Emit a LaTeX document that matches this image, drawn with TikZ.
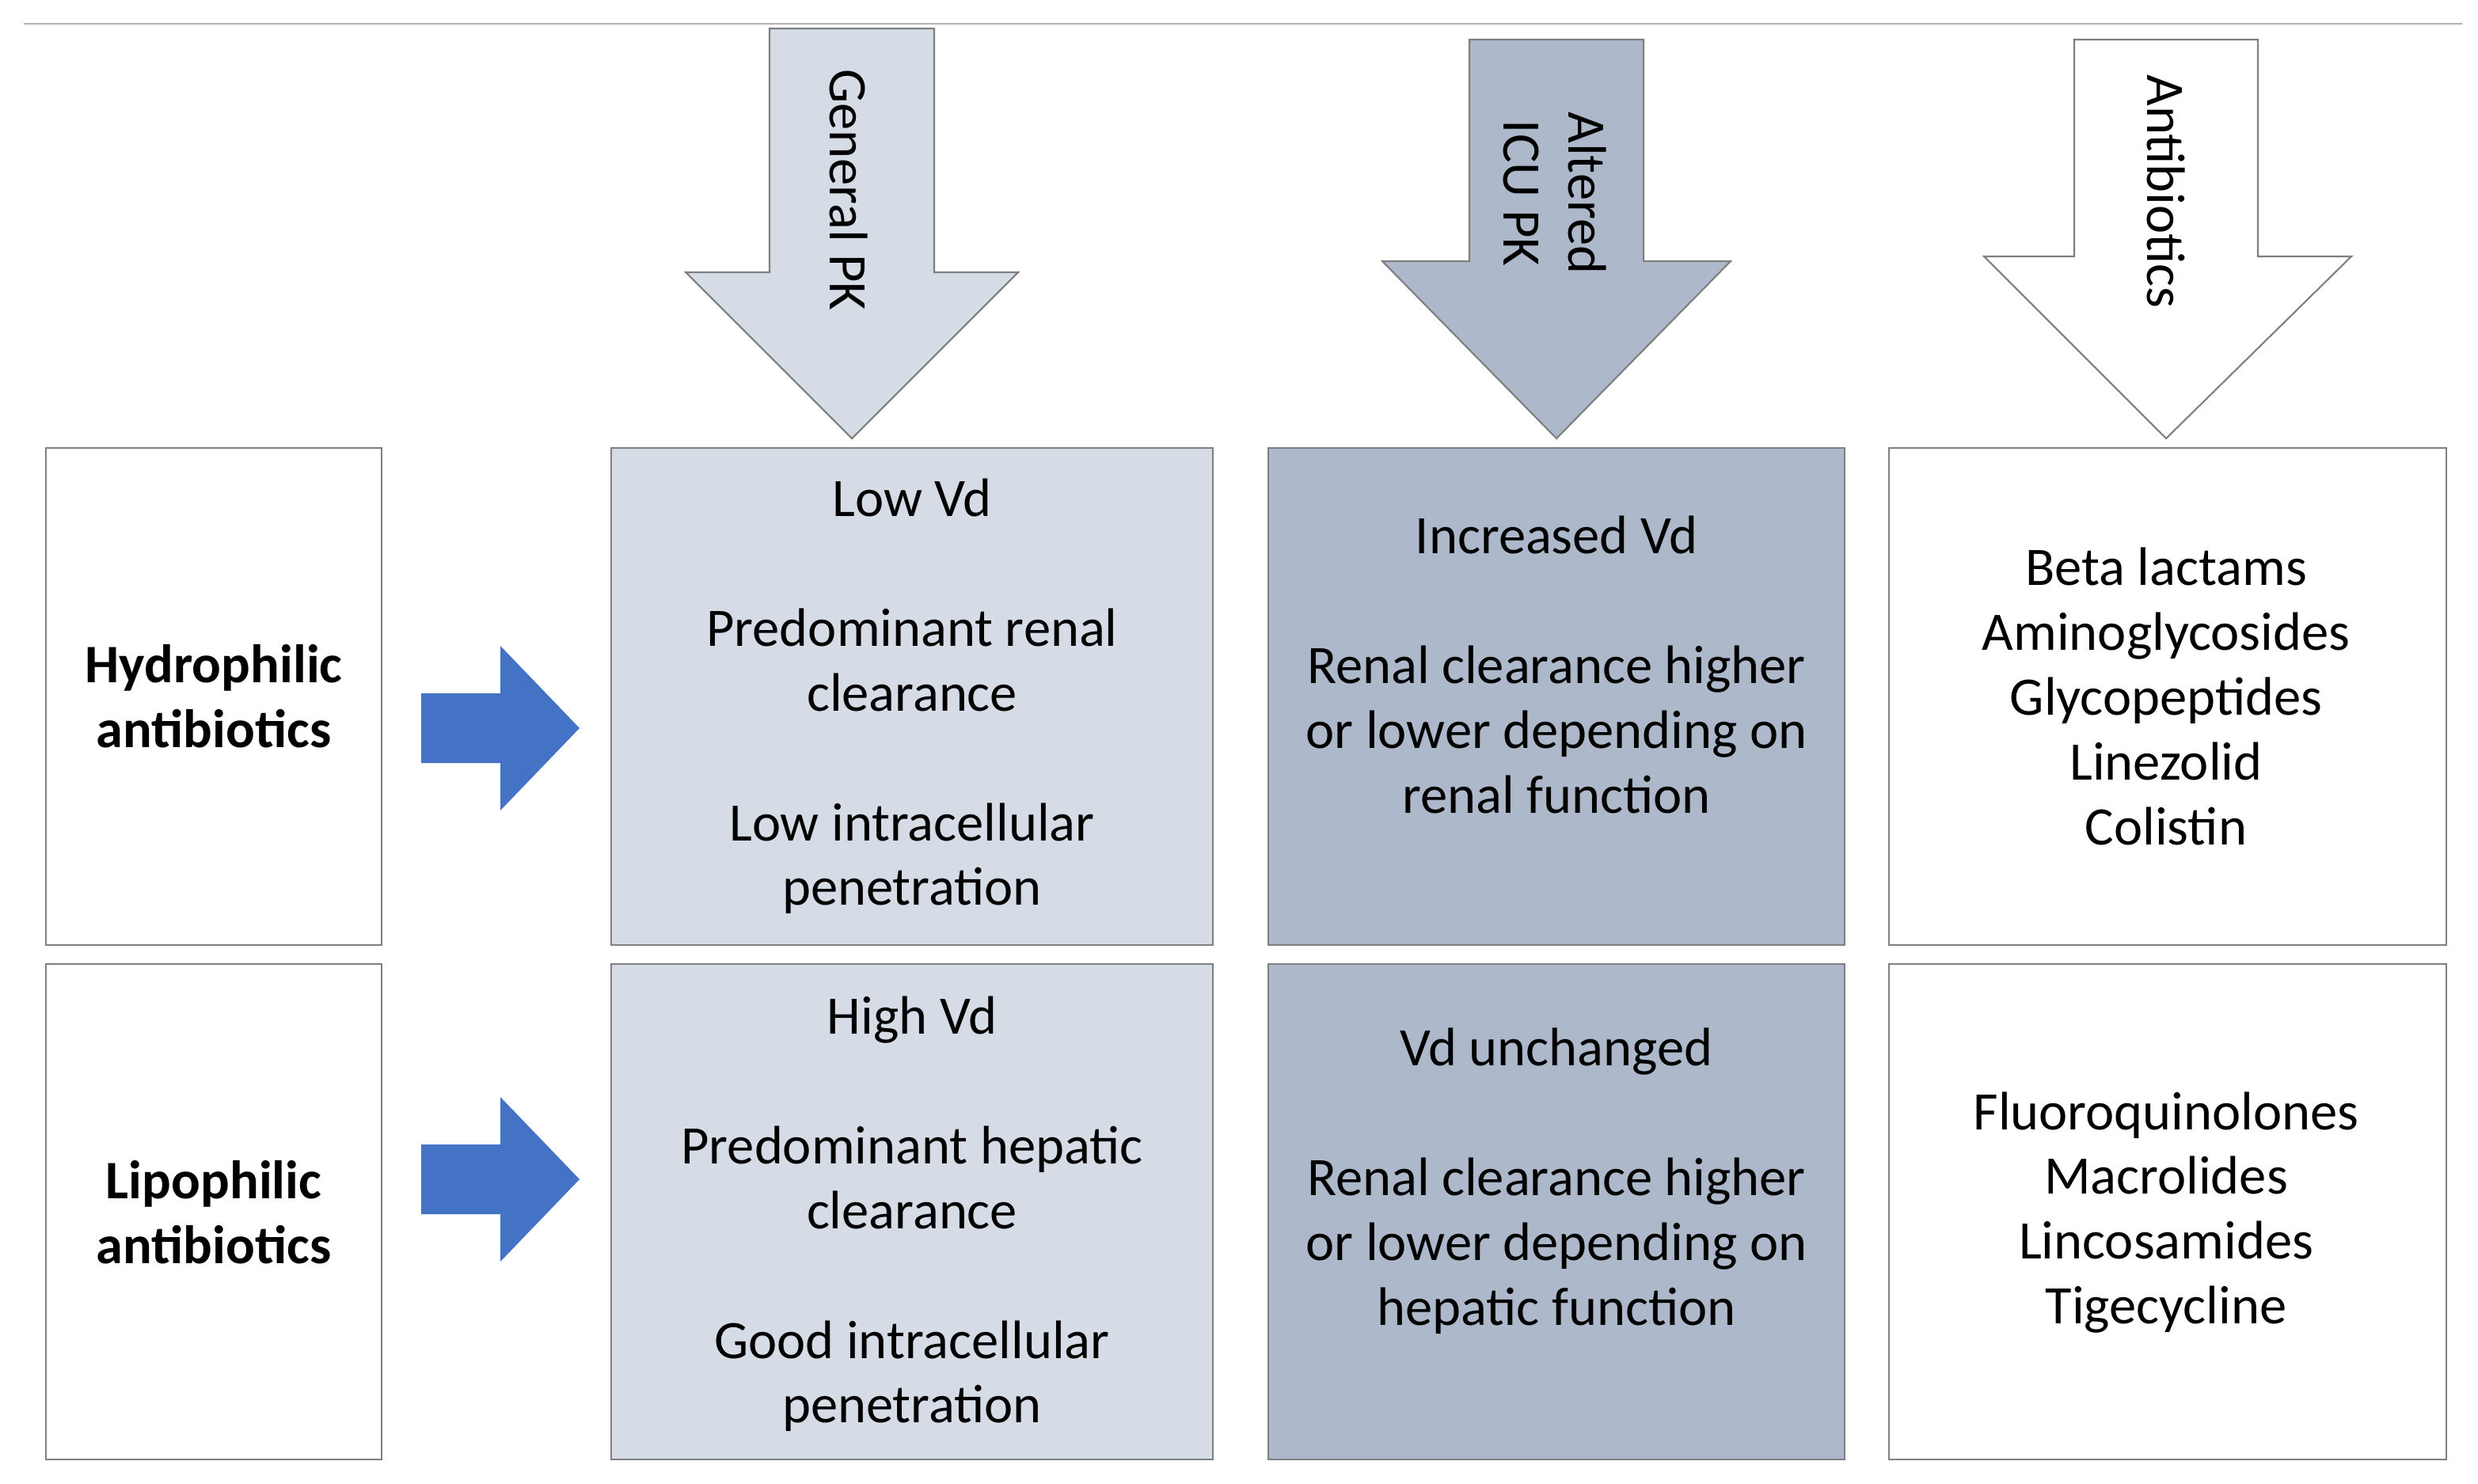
\documentclass[tikz,border=0pt]{standalone}
\usepackage{fontspec}
\setmainfont{Carlito}
\definecolor{pklight}{HTML}{D6DCE5}
\definecolor{pkdark}{HTML}{ADB9CA}
\definecolor{pkblue}{HTML}{4472C4}
\definecolor{pkline}{HTML}{7F7F7F}
\tikzset{
  box/.style={draw=pkline, line width=0.6pt},
  txt/.style={align=center, font=\fontsize{19.5}{23.3}\selectfont},
  downarrow/.style={draw=pkline, line width=0.6pt},
}
\newcommand{\gap}{\\[23.3pt]}
\begin{document}
\begin{tikzpicture}[x=0.02cm, y=-0.02cm]
\useasboundingbox (0,0) rectangle (1565,937.5);
\draw[black!30, line width=0.6pt] (15,15) -- (1555,15);

% row boxes
\draw[box] (29,283) rectangle (241,597);
\draw[box] (29,609) rectangle (241,922);
\draw[box, fill=pklight] (386,283) rectangle (766,597);
\draw[box, fill=pklight] (386,609) rectangle (766,922);
\draw[box, fill=pkdark] (801,283) rectangle (1165,597);
\draw[box, fill=pkdark] (801,609) rectangle (1165,922);
\draw[box] (1193,283) rectangle (1545,597);
\draw[box] (1193,609) rectangle (1545,922);

% down arrows
\draw[downarrow, fill=pklight] (486,18) -- (590,18) -- (590,172) -- (643,172) -- (538,277) -- (433,172) -- (486,172) -- cycle;
\draw[downarrow, fill=pkdark] (928,25) -- (1038,25) -- (1038,165) -- (1093,165) -- (983,277) -- (873,165) -- (928,165) -- cycle;
\draw[downarrow, fill=white] (1310,25) -- (1426,25) -- (1426,162) -- (1485,162) -- (1368,277) -- (1253,162) -- (1310,162) -- cycle;

\node[txt, rotate=-90] (genpk) at (536,120) {General PK};
\node[txt, rotate=-90] (icupk) at (982,122) {Altered\\ICU PK};
\node[txt, rotate=-90] (abx) at (1368,121) {Antibiotics};

% blue arrows
\foreach \yc in {460,745}
  \fill[pkblue] (266,\yc-22) -- (316,\yc-22) -- (316,\yc-52) -- (366,\yc) -- (316,\yc+52) -- (316,\yc+22) -- (266,\yc+22) -- cycle;

% texts
\node[txt, font=\fontsize{19.5}{23.3}\selectfont\bfseries] (hydro) at (135,440) {Hydrophilic\\antibiotics};
\node[txt, font=\fontsize{19.5}{23.3}\selectfont\bfseries] (lipo) at (135,766) {Lipophilic\\antibiotics};

\node[txt] (hydropk) at (576,440) {Low Vd\gap Predominant renal\\clearance\gap Low intracellular\\penetration};
\node[txt] (lipopk) at (576,767) {High Vd\gap Predominant hepatic\\clearance\gap Good intracellular\\penetration};

\node[txt] (hydroicu) at (983,420) {Increased Vd\gap Renal clearance  higher\\or lower depending on\\renal function};
\node[txt] (lipoicu) at (983,746) {Vd unchanged\gap Renal clearance  higher\\or lower depending on\\hepatic function};

\node[txt] (hydroabx) at (1368,440) {Beta lactams\\Aminoglycosides\\Glycopeptides\\Linezolid\\Colistin};
\node[txt] (lipoabx) at (1368,766) {Fluoroquinolones\\Macrolides\\Lincosamides\\Tigecycline};
\end{tikzpicture}
\end{document}
